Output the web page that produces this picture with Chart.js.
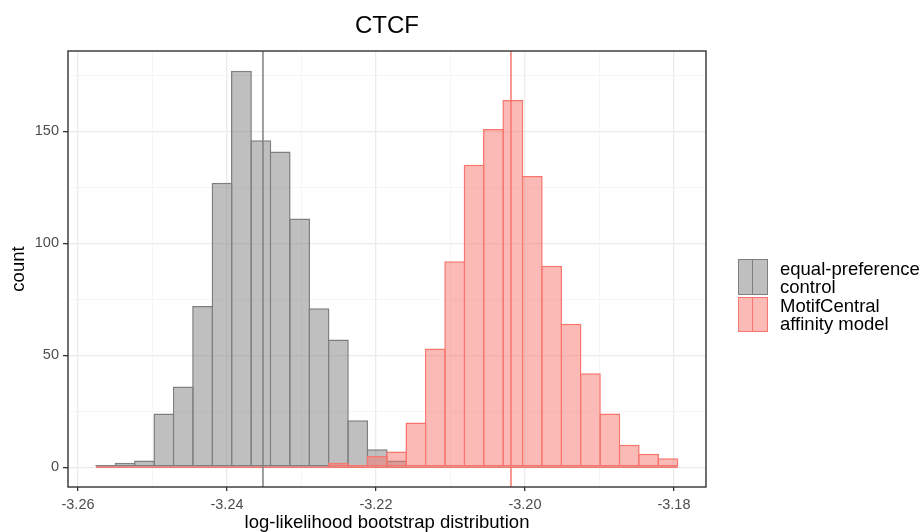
<!DOCTYPE html>
<html>
<head>
<meta charset="utf-8">
<title>CTCF</title>
<script src="https://cdn.jsdelivr.net/npm/chart.js@4.4.1/dist/chart.umd.min.js"></script>
<style>
  body { margin: 0; background: #fff; font-family: "Liberation Sans", Arial, sans-serif; }
  .wrap { position: relative; width: 922px; height: 532px; }
  .legend-key { position: absolute; left: 738px; width: 30px; box-sizing: border-box; border: 1.5px solid; }
  .legend-key span { position: absolute; left: 12.75px; top: 0; bottom: 0; width: 1.5px; }
  .legend-label { position: absolute; left: 780px; font-size: 18.5px; line-height: 17.5px; color: #000; white-space: nowrap; }
</style>
</head>
<body>
<div class="wrap">
  <canvas id="chart" width="922" height="532"></canvas>
  <div id="legend"></div>
</div>
<script>
// ── data ──
const chartTitle = 'CTCF';
const xTitle = 'log-likelihood bootstrap distribution';
const yTitle = 'count';

// histogram bin centres (30 bins)
const binCenters = [
  -3.25628, -3.25368, -3.25107, -3.24847, -3.24587, -3.24327, -3.24066, -3.23806, -3.23546, -3.23286,
  -3.23025, -3.22765, -3.22505, -3.22245, -3.21984, -3.21724, -3.21464, -3.21204, -3.20943, -3.20683,
  -3.20423, -3.20163, -3.19902, -3.19642, -3.19382, -3.19122, -3.18861, -3.18601, -3.18341, -3.18081
];
const controlCounts = [1, 2, 3, 24, 36, 72, 127, 177, 146, 141, 111, 71, 57, 21, 8, 3, 0, 0, 0, 0, 0, 0, 0, 0, 0, 0, 0, 0, 0, 0];
const motifCounts   = [0, 0, 0, 0, 0, 0, 0, 0, 0, 0, 0, 0, 2, 1, 5, 7, 20, 53, 92, 135, 151, 164, 130, 90, 64, 42, 24, 10, 6, 4];
const controlMean = -3.23517;
const motifMean = -3.20188;

const seriesNames = [['equal-preference', 'control'], ['MotifCentral', 'affinity model']];
const xRange = [-3.26134, -3.1757];
const yRange = [-8.85, 185.85];

// ── styles ──
const FONT = '"Liberation Sans", Arial, sans-serif';
const lineColors = ['#7F7F7F', '#F8766D'];
const fillColors = ['rgba(127,127,127,0.5)', 'rgba(248,118,109,0.5)'];

const binWidth = binCenters[1] - binCenters[0];
const histStart = binCenters[0] - binWidth / 2;
const histEnd = binCenters[binCenters.length - 1] + binWidth / 2;

const barDataset = (label, counts, i, order) => ({
  type: 'bar', label, order,
  data: binCenters.map((x, k) => ({ x, y: counts[k] })),
  backgroundColor: fillColors[i], borderColor: lineColors[i], borderWidth: 1.5,
  borderSkipped: false, inflateAmount: 0, grouped: false,
  barPercentage: 1.077, categoryPercentage: 1
});
const baseLine = (i, order) => ({
  type: 'line', order, data: [{ x: histStart, y: 0 }, { x: histEnd, y: 0 }],
  borderColor: lineColors[i], borderWidth: 1.5, pointRadius: 0
});
const meanLine = (mean, i) => ({
  type: 'line', order: 0, data: [{ x: mean, y: yRange[0] }, { x: mean, y: yRange[1] }],
  borderColor: lineColors[i], borderWidth: 1.5, pointRadius: 0
});

const panelPlugin = {
  id: 'panel',
  afterDraw(chart) {
    const { ctx, chartArea: a } = chart;
    ctx.save();
    ctx.strokeStyle = '#333333';
    ctx.lineWidth = 1.4;
    ctx.strokeRect(a.left, a.top, a.right - a.left, a.bottom - a.top);
    ctx.fillStyle = '#000';
    ctx.font = '24px ' + FONT;
    ctx.textAlign = 'center';
    ctx.textBaseline = 'middle';
    ctx.fillText(chartTitle, (a.left + a.right) / 2, 26.5);
    ctx.restore();
  }
};

const isMajorX = v => Math.round(v * 100) % 2 === 0;
const isMajorY = v => Math.round(v) % 50 === 0;
// grid helpers: context may come without a tick
const pick = (test, yes, no) => c => (c.tick && test(c.tick.value)) ? yes : no;

new Chart(document.getElementById('chart'), {
  type: 'bar',
  data: {
    datasets: [
      barDataset(seriesNames[0].join(' '), controlCounts, 0, 4),
      baseLine(0, 5),
      barDataset(seriesNames[1].join(' '), motifCounts, 1, 2),
      baseLine(1, 1),
      meanLine(controlMean, 0),
      meanLine(motifMean, 1)
    ]
  },
  options: {
    responsive: false, animation: false, devicePixelRatio: 1,
    layout: { padding: { left: 0, right: 216, top: 51, bottom: 0 } },
    plugins: { legend: { display: false }, tooltip: { enabled: false }, title: { display: false } },
    scales: {
      x: {
        type: 'linear', min: xRange[0], max: xRange[1], offset: false,
        afterFit(s) { s.height = 45; },
        border: { display: false },
        grid: {
          offset: false,
          color: pick(isMajorX, '#EBEBEB', '#F2F2F2'),
          lineWidth: pick(isMajorX, 1.3, 0.7),
          tickColor: pick(isMajorX, '#333333', 'rgba(0,0,0,0)'),
          tickLength: 4, tickWidth: 1.3
        },
        ticks: {
          stepSize: 0.01, includeBounds: false, autoSkip: false, maxRotation: 0, padding: 5,
          color: '#4D4D4D', font: { family: FONT, size: 14.5 },
          callback: v => isMajorX(v) ? v.toFixed(2) : ''
        },
        title: { display: true, text: xTitle, color: '#000', font: { family: FONT, size: 18.5, lineHeight: 1 }, padding: { top: 0, bottom: 0 } }
      },
      y: {
        type: 'linear', min: yRange[0], max: yRange[1],
        afterFit(s) { s.width = 68; },
        border: { display: false },
        grid: {
          color: pick(isMajorY, '#EBEBEB', '#F2F2F2'),
          lineWidth: pick(isMajorY, 1.3, 0.7),
          tickColor: pick(isMajorY, '#333333', 'rgba(0,0,0,0)'),
          tickLength: 5, tickWidth: 1.3
        },
        ticks: {
          stepSize: 25, includeBounds: false, autoSkip: false, padding: 4,
          color: '#4D4D4D', font: { family: FONT, size: 14.5 },
          callback: v => isMajorY(v) ? String(v) : ''
        },
        title: { display: true, text: yTitle, color: '#000', font: { family: FONT, size: 18.5, lineHeight: 1 }, padding: { top: 10, bottom: 0 } }
      }
    }
  },
  plugins: [panelPlugin]
});

// ── legend (two-line labels, drawn as html) ──
const legendRows = [{ keyTop: 259, keyH: 36, textTop: 260 }, { keyTop: 297, keyH: 35, textTop: 297 }];
const legendEl = document.getElementById('legend');
seriesNames.forEach((lines, i) => {
  const row = legendRows[i];
  const key = document.createElement('div');
  key.className = 'legend-key';
  key.style.top = row.keyTop + 'px';
  key.style.height = row.keyH + 'px';
  key.style.background = fillColors[i];
  key.style.borderColor = lineColors[i];
  const bar = document.createElement('span');
  bar.style.background = lineColors[i];
  key.appendChild(bar);
  legendEl.appendChild(key);

  const label = document.createElement('div');
  label.className = 'legend-label';
  label.style.top = row.textTop + 'px';
  label.innerHTML = lines.join('<br>');
  legendEl.appendChild(label);
});
</script>
</body>
</html>
